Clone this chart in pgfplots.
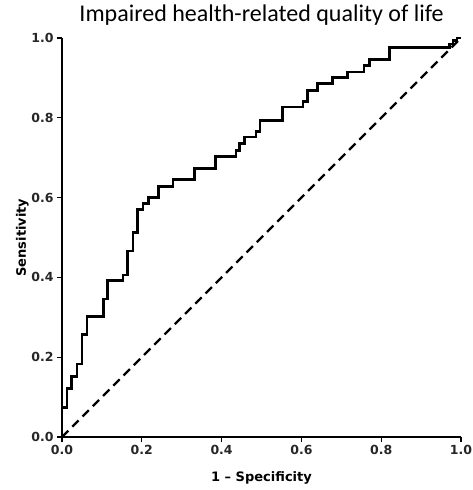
\documentclass[border=0pt]{standalone}
\usepackage{fontspec}
\setmainfont{DejaVu Sans}
\newfontfamily\titlefont{Carlito}
\usepackage{pgfplots}
\pgfplotsset{compat=1.18}

\begin{document}
\begin{tikzpicture}
\begin{axis}[
    at={(0,0)}, anchor=south west,
    width=399pt, height=399pt, scale only axis,
    xmin=0, xmax=1, ymin=0, ymax=1,
    clip=false,
    axis lines=left,
    axis line style={-, line width=1.3pt},
    tick align=outside, tick pos=left,
    major tick length=5pt,
    tick style={line width=1.1pt, black},
    xtick={0,0.2,0.4,0.6,0.8,1},
    ytick={0,0.2,0.4,0.6,0.8,1},
    tick label style={font=\fontsize{12.5}{14}\selectfont\bfseries, text=black!85},
    /pgf/number format/.cd, fixed, fixed zerofill, precision=1, assume math mode=true, /pgfplots/.cd,
    title={Impaired health-related quality of life},
    title style={font=\titlefont\fontsize{24}{28}\selectfont, at={(axis description cs:0.5,1)}, anchor=base, yshift=10pt},
    xlabel={1 -- Specificity},
    xlabel style={font=\fontsize{13}{15}\selectfont\bfseries, at={(axis description cs:0.5,0)}, anchor=base, yshift=-44pt},
    ylabel={Sensitivity},
    ylabel style={font=\fontsize{13}{15}\selectfont\bfseries, at={([xshift=-36pt]axis description cs:0,0.5)}, anchor=base},
]
% reference line
\addplot[black, line width=2.2pt, dash pattern=on 9pt off 5.5pt] coordinates {(0,0) (1,1)};
% ROC curve
\addplot[black, line width=2.8pt, line join=miter] coordinates {
(0,0) (0,0.074) (0.0125,0.074) (0.0125,0.122) (0.0236,0.122) (0.0236,0.151)
(0.0376,0.151) (0.0376,0.183) (0.050,0.183) (0.050,0.256) (0.0627,0.256) (0.0627,0.302)
(0.105,0.302) (0.105,0.346) (0.114,0.346) (0.114,0.392) (0.153,0.392) (0.153,0.406)
(0.164,0.406) (0.164,0.466) (0.178,0.466) (0.178,0.512) (0.189,0.512) (0.189,0.570)
(0.203,0.570) (0.203,0.586) (0.216,0.586) (0.216,0.601) (0.2425,0.601) (0.2425,0.628)
(0.278,0.628) (0.278,0.645) (0.333,0.645) (0.333,0.673) (0.385,0.673) (0.385,0.704)
(0.436,0.704) (0.436,0.719) (0.444,0.719) (0.444,0.735) (0.458,0.735) (0.458,0.752)
(0.486,0.752) (0.486,0.765) (0.496,0.765) (0.496,0.794) (0.553,0.794) (0.553,0.827)
(0.604,0.827) (0.604,0.840) (0.6145,0.840) (0.6145,0.869) (0.640,0.869) (0.640,0.886)
(0.678,0.886) (0.678,0.901) (0.715,0.901) (0.715,0.915) (0.757,0.915) (0.757,0.932)
(0.770,0.932) (0.770,0.946) (0.820,0.946) (0.820,0.977) (0.971,0.977) (0.971,0.985)
(0.980,0.985) (0.980,0.993) (0.990,0.993) (0.990,1.0) (1.0,1.0)
};
\end{axis}
\pgfresetboundingbox
\path (-62pt,-53pt) rectangle (411pt,437pt);
\end{tikzpicture}
\end{document}
